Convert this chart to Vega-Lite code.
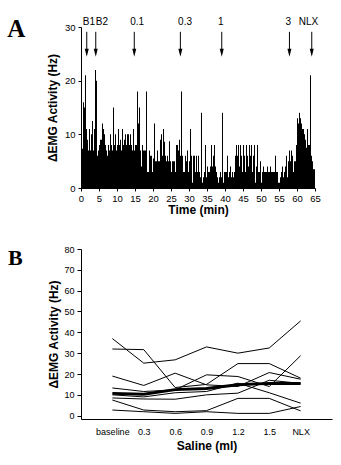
{
  "$schema": "https://vega.github.io/schema/vega-lite/v6.json",
  "padding": {"left": 7, "top": 16, "right": 5, "bottom": 5},
  "background": "white",
  "spacing": 29,
  "config": {
    "view": {"stroke": null},
    "font": "Liberation Sans",
    "axis": {"domainColor": "black", "tickColor": "black", "labelColor": "black", "titleColor": "black", "grid": false, "labelFont": "Liberation Sans", "titleFont": "Liberation Sans", "titleFontWeight": "bold", "titleFontSize": 12, "labelFontSize": 9.5, "labelOverlap": false}
  },
  "datasets": {
    "hist": [
      {"t":0,"v":7.3},{"t":0.28,"v":7.3},{"t":0.56,"v":16},{"t":0.83,"v":15},{"t":1.11,"v":21},{"t":1.39,"v":11},{"t":1.67,"v":9},{"t":1.94,"v":7},{"t":2.22,"v":11},{"t":2.5,"v":7},{"t":2.78,"v":10},{"t":3.06,"v":12.5},{"t":3.33,"v":7},{"t":3.61,"v":11},{"t":3.89,"v":22},{"t":4.17,"v":20},{"t":4.44,"v":6},{"t":4.72,"v":7},
      {"t":5,"v":8},{"t":5.28,"v":9},{"t":5.56,"v":9},{"t":5.83,"v":12},{"t":6.11,"v":11},{"t":6.39,"v":10},{"t":6.67,"v":8},{"t":6.94,"v":7},{"t":7.22,"v":6},{"t":7.5,"v":8},{"t":7.78,"v":7},{"t":8.06,"v":10},{"t":8.33,"v":8},{"t":8.61,"v":7},{"t":8.89,"v":15},{"t":9.17,"v":8},{"t":9.44,"v":10},{"t":9.72,"v":7},
      {"t":10,"v":8},{"t":10.28,"v":11},{"t":10.56,"v":8},{"t":10.83,"v":9},{"t":11.11,"v":7},{"t":11.39,"v":11},{"t":11.67,"v":8},{"t":11.94,"v":9},{"t":12.22,"v":10},{"t":12.5,"v":8},{"t":12.78,"v":10},{"t":13.06,"v":10},{"t":13.33,"v":8},{"t":13.61,"v":10},{"t":13.89,"v":8},{"t":14.17,"v":7},{"t":14.44,"v":11},{"t":14.72,"v":7},
      {"t":15,"v":8},{"t":15.28,"v":8},{"t":15.56,"v":18},{"t":15.83,"v":12},{"t":16.11,"v":15},{"t":16.39,"v":7},{"t":16.67,"v":4},{"t":16.94,"v":8},{"t":17.22,"v":7},{"t":17.5,"v":7},{"t":17.78,"v":7},{"t":18.06,"v":18},{"t":18.33,"v":3},{"t":18.61,"v":3},{"t":18.89,"v":7},{"t":19.17,"v":6},{"t":19.44,"v":6},{"t":19.72,"v":3},
      {"t":20,"v":5.5},{"t":20.28,"v":12},{"t":20.56,"v":5},{"t":20.83,"v":5},{"t":21.11,"v":7},{"t":21.39,"v":5},{"t":21.67,"v":5},{"t":21.94,"v":9},{"t":22.22,"v":10},{"t":22.5,"v":6},{"t":22.78,"v":11},{"t":23.06,"v":8.6},{"t":23.33,"v":6},{"t":23.61,"v":5},{"t":23.89,"v":6},{"t":24.17,"v":5},{"t":24.44,"v":8.7},{"t":24.72,"v":5},
      {"t":25,"v":3},{"t":25.28,"v":5},{"t":25.56,"v":5},{"t":25.83,"v":5},{"t":26.11,"v":3},{"t":26.39,"v":8},{"t":26.67,"v":8},{"t":26.94,"v":7},{"t":27.22,"v":9},{"t":27.5,"v":6},{"t":27.78,"v":18},{"t":28.06,"v":6},{"t":28.33,"v":3},{"t":28.61,"v":3},{"t":28.89,"v":6},{"t":29.17,"v":5},{"t":29.44,"v":7},{"t":29.72,"v":3},
      {"t":30,"v":5},{"t":30.28,"v":11},{"t":30.56,"v":6},{"t":30.83,"v":1},{"t":31.11,"v":6},{"t":31.39,"v":6},{"t":31.67,"v":3},{"t":31.94,"v":6},{"t":32.22,"v":3},{"t":32.5,"v":6},{"t":32.78,"v":3},{"t":33.06,"v":2},{"t":33.33,"v":14},{"t":33.61,"v":1},{"t":33.89,"v":2},{"t":34.17,"v":3},{"t":34.44,"v":8},{"t":34.72,"v":2},
      {"t":35,"v":4},{"t":35.28,"v":3},{"t":35.56,"v":3},{"t":35.83,"v":4},{"t":36.11,"v":8},{"t":36.39,"v":4},{"t":36.67,"v":6},{"t":36.94,"v":8},{"t":37.22,"v":4},{"t":37.5,"v":3},{"t":37.78,"v":2},{"t":38.06,"v":1},{"t":38.33,"v":2},{"t":38.61,"v":3},{"t":38.89,"v":2},{"t":39.17,"v":14},{"t":39.44,"v":1},{"t":39.72,"v":3},
      {"t":40,"v":3},{"t":40.28,"v":3},{"t":40.56,"v":6},{"t":40.83,"v":2},{"t":41.11,"v":3},{"t":41.39,"v":4},{"t":41.67,"v":2},{"t":41.94,"v":3},{"t":42.22,"v":2},{"t":42.5,"v":3},{"t":42.78,"v":6},{"t":43.06,"v":8},{"t":43.33,"v":6},{"t":43.61,"v":8},{"t":43.89,"v":4},{"t":44.17,"v":8},{"t":44.44,"v":6},{"t":44.72,"v":3},
      {"t":45,"v":8},{"t":45.28,"v":6},{"t":45.56,"v":3},{"t":45.83,"v":8},{"t":46.11,"v":6},{"t":46.39,"v":4},{"t":46.67,"v":8},{"t":46.94,"v":6},{"t":47.22,"v":8},{"t":47.5,"v":3},{"t":47.78,"v":6},{"t":48.06,"v":8},{"t":48.33,"v":1},{"t":48.61,"v":4},{"t":48.89,"v":8},{"t":49.17,"v":3},{"t":49.44,"v":3},{"t":49.72,"v":5},
      {"t":50,"v":1},{"t":50.28,"v":3},{"t":50.56,"v":4},{"t":50.83,"v":3},{"t":51.11,"v":3},{"t":51.39,"v":3},{"t":51.67,"v":4},{"t":51.94,"v":3},{"t":52.22,"v":3},{"t":52.5,"v":4},{"t":52.78,"v":3},{"t":53.06,"v":3},{"t":53.33,"v":3},{"t":53.61,"v":3},{"t":53.89,"v":6},{"t":54.17,"v":3},{"t":54.44,"v":3},{"t":54.72,"v":1},
      {"t":55,"v":1},{"t":55.28,"v":2},{"t":55.56,"v":3},{"t":55.83,"v":4},{"t":56.11,"v":2},{"t":56.39,"v":3},{"t":56.67,"v":4},{"t":56.94,"v":6},{"t":57.22,"v":2},{"t":57.5,"v":5},{"t":57.78,"v":7},{"t":58.06,"v":5},{"t":58.33,"v":7},{"t":58.61,"v":6},{"t":58.89,"v":3},{"t":59.17,"v":5},{"t":59.44,"v":5},{"t":59.72,"v":8},
      {"t":60,"v":13},{"t":60.28,"v":12},{"t":60.56,"v":14},{"t":60.83,"v":13},{"t":61.11,"v":12},{"t":61.39,"v":11},{"t":61.67,"v":11},{"t":61.94,"v":10},{"t":62.22,"v":9},{"t":62.5,"v":7.5},{"t":62.78,"v":11},{"t":63.06,"v":8},{"t":63.33,"v":8},{"t":63.61,"v":21},{"t":63.89,"v":6},{"t":64.17,"v":5},{"t":64.44,"v":3.5},{"t":64.72,"v":3.5},{"t":65,"v":3.5}
    ],
    "events": [
      {"label":"B1","t":1.6,"label_t":2.2},
      {"label":"B2","t":4.1,"label_t":5.8},
      {"label":"0.1","t":14.8,"label_t":15.6},
      {"label":"0.3","t":27.6,"label_t":28.9},
      {"label":"1","t":39.1,"label_t":38.8},
      {"label":"3","t":57.9,"label_t":57.6},
      {"label":"NLX","t":64.1,"label_t":63.2}
    ],
    "indiv": [
      {"s":"1","dose":"baseline","v":37},{"s":"1","dose":"0.3","v":25.2},{"s":"1","dose":"0.6","v":26.8},{"s":"1","dose":"0.9","v":33},{"s":"1","dose":"1.2","v":30},{"s":"1","dose":"1.5","v":32.5},{"s":"1","dose":"NLX","v":45.5},
      {"s":"2","dose":"baseline","v":32},{"s":"2","dose":"0.3","v":31.7},{"s":"2","dose":"0.6","v":13.5},{"s":"2","dose":"0.9","v":15},{"s":"2","dose":"1.2","v":25},{"s":"2","dose":"1.5","v":25},{"s":"2","dose":"NLX","v":18},
      {"s":"3","dose":"baseline","v":13.3},{"s":"3","dose":"0.3","v":11.6},{"s":"3","dose":"0.6","v":12.4},{"s":"3","dose":"0.9","v":19.6},{"s":"3","dose":"1.2","v":18.8},{"s":"3","dose":"1.5","v":14},{"s":"3","dose":"NLX","v":28.8},
      {"s":"4","dose":"baseline","v":19},{"s":"4","dose":"0.3","v":14.5},{"s":"4","dose":"0.6","v":20.4},{"s":"4","dose":"0.9","v":14.8},{"s":"4","dose":"1.2","v":14},{"s":"4","dose":"1.5","v":20.7},{"s":"4","dose":"NLX","v":17.5},
      {"s":"5","dose":"baseline","v":10},{"s":"5","dose":"0.3","v":9},{"s":"5","dose":"0.6","v":11},{"s":"5","dose":"0.9","v":11.6},{"s":"5","dose":"1.2","v":15.6},{"s":"5","dose":"1.5","v":11},{"s":"5","dose":"NLX","v":6},
      {"s":"6","dose":"baseline","v":8.5},{"s":"6","dose":"0.3","v":8},{"s":"6","dose":"0.6","v":7.9},{"s":"6","dose":"0.9","v":10},{"s":"6","dose":"1.2","v":10.8},{"s":"6","dose":"1.5","v":17},{"s":"6","dose":"NLX","v":15.5},
      {"s":"7","dose":"baseline","v":7.5},{"s":"7","dose":"0.3","v":2.7},{"s":"7","dose":"0.6","v":1.9},{"s":"7","dose":"0.9","v":2.4},{"s":"7","dose":"1.2","v":8.3},{"s":"7","dose":"1.5","v":8.3},{"s":"7","dose":"NLX","v":2.3},
      {"s":"8","dose":"baseline","v":2.7},{"s":"8","dose":"0.3","v":1.9},{"s":"8","dose":"0.6","v":1.1},{"s":"8","dose":"0.9","v":1.9},{"s":"8","dose":"1.2","v":1.1},{"s":"8","dose":"1.5","v":1.1},{"s":"8","dose":"NLX","v":4.4}
    ],
    "mean": [
      {"dose":"baseline","v":10.7},{"dose":"0.3","v":10.3},{"dose":"0.6","v":12.5},{"dose":"0.9","v":13},{"dose":"1.2","v":14.8},{"dose":"1.5","v":15.5},{"dose":"NLX","v":15.5}
    ],
    "letterA": [{"letter": "A"}],
    "letterB": [{"letter": "B"}]
  },
  "vconcat": [
    {
      "width": 234,
      "height": 161,
      "layer": [
        {
          "data": {"name": "hist"},
          "mark": {"type": "area", "interpolate": "step-after", "color": "black"},
          "encoding": {
            "x": {"field": "t", "type": "quantitative", "scale": {"domain": [0, 65], "nice": false, "zero": false},
                  "axis": {"values": [0,5,10,15,20,25,30,35,40,45,50,55,60,65], "tickCount": 14, "labelOverlap": false, "tickSize": 3, "labelPadding": 2, "title": "Time (min)", "titlePadding": 2, "labelFlush": false}},
            "y": {"field": "v", "type": "quantitative", "scale": {"domain": [0, 30], "nice": false},
                  "axis": {"values": [0,10,20,30], "tickCount": 4, "labelOverlap": false, "tickSize": 3, "labelPadding": 3, "title": "ΔEMG Activity (Hz)", "titlePadding": 5}}
          }
        },
        {
          "data": {"name": "events"},
          "mark": {"type": "rule", "color": "black", "strokeWidth": 1},
          "encoding": {"x": {"field": "t", "type": "quantitative"}, "y": {"datum": 29.1}, "y2": {"datum": 25.2}}
        },
        {
          "data": {"name": "events"},
          "mark": {"type": "point", "shape": "M-0.5,-1L0.5,-1L0,1Z", "filled": true, "color": "black", "opacity": 1, "size": 64},
          "encoding": {"x": {"field": "t", "type": "quantitative"}, "y": {"datum": 25.2}}
        },
        {
          "data": {"name": "events"},
          "mark": {"type": "text", "fontSize": 10, "color": "black", "baseline": "middle", "align": "center"},
          "encoding": {"x": {"field": "label_t", "type": "quantitative"}, "y": {"datum": 31.0}, "text": {"field": "label"}}
        },
        {
          "data": {"name": "letterA"},
          "mark": {"type": "text", "font": "Liberation Serif", "fontSize": 25, "fontWeight": "bold", "color": "black", "align": "left", "baseline": "alphabetic"},
          "encoding": {"x": {"datum": -20.5}, "y": {"datum": 28.1}, "text": {"field": "letter"}}
        }
      ]
    },
    {
      "width": 251,
      "height": 170,
      "resolve": {"scale": {"x": "independent"}},
      "layer": [
        {
          "layer": [
            {
              "data": {"name": "indiv"},
              "mark": {"type": "line", "color": "black", "strokeWidth": 1},
              "encoding": {
                "x": {"field": "dose", "type": "ordinal", "sort": ["baseline","0.3","0.6","0.9","1.2","1.5","NLX"], "scale": {"type": "point", "padding": 1},
                      "axis": {"ticks": false, "labelAngle": 0, "labelOverlap": false, "labelPadding": 8, "labelFontSize": 9, "title": "Saline (ml)", "titlePadding": 4}},
                "y": {"field": "v", "type": "quantitative", "scale": {"domain": [-1.6, 80], "nice": false, "zero": false},
                      "axis": {"values": [0,10,20,30,40,50,60,70,80], "tickCount": 9, "labelOverlap": false, "tickSize": 4, "labelPadding": 3, "labelFontSize": 9, "title": "ΔEMG Activity (Hz)", "titlePadding": 3}},
                "detail": {"field": "s"}
              }
            },
            {
              "data": {"name": "mean"},
              "mark": {"type": "line", "color": "black", "strokeWidth": 3},
              "encoding": {
                "x": {"field": "dose", "type": "ordinal", "sort": ["baseline","0.3","0.6","0.9","1.2","1.5","NLX"]},
                "y": {"field": "v", "type": "quantitative"}
              }
            }
          ]
        },
        {
          "data": {"name": "letterB"},
          "mark": {"type": "text", "font": "Liberation Serif", "fontSize": 22, "fontWeight": "bold", "color": "black", "align": "left", "baseline": "alphabetic"},
          "encoding": {"x": {"datum": -0.291, "type": "quantitative", "scale": {"domain": [0, 1], "nice": false, "zero": false}, "axis": null}, "y": {"datum": 72.3}, "text": {"field": "letter"}}
        }
      ]
    }
  ]
}
